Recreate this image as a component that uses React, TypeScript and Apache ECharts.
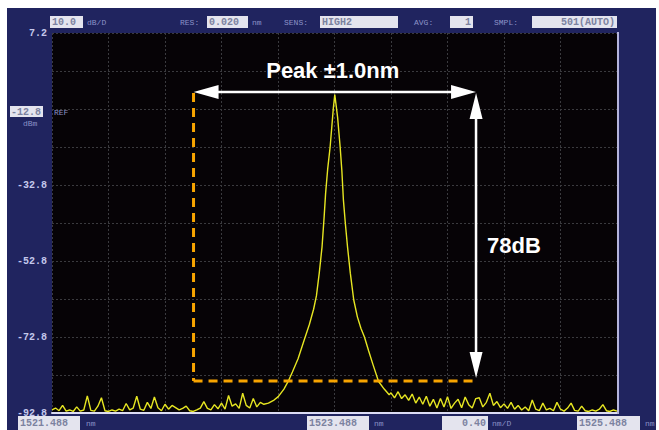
import React, { useEffect, useRef } from "react";
import * as echarts from "echarts";

// ---- axis definitions ----
const START_NM = 1521.488; // left edge of the span
const CENTER_NM = 1523.49; // peak wavelength
const SPAN_NM = 4.0;
const X_DIV_NM = 0.4;
const BOTTOM_DBM = -92.8;
const TOP_DBM = 7.2;
const Y_DIV_DB = 10;
const NOISE_STEP_NM = 0.025;

const xTickLabels = ["1521.488", "1523.488", "1525.488"];
const xDivLabel = "0.40";
const refLevelLabel = "-12.8";

// ---- spectrum trace (dBm) ----
// noise floor left of the peak, from 1521.488 nm in 0.025 nm steps
const noiseLeft = [
  -92.0, -91.5, -92.2, -90.8, -92.3, -92.0, -92.4, -91.2, -92.3, -92.0,
  -88.3, -92.1, -92.3, -91.0, -88.8, -92.2, -92.4, -92.0, -92.3, -91.8,
  -92.2, -90.3, -92.0, -91.5, -88.4, -91.8, -92.1, -90.0, -91.6, -88.6,
  -91.4, -92.2, -90.5, -91.8, -90.8, -91.4, -92.0, -91.6, -91.0, -92.2,
  -92.4, -92.0, -91.5, -89.8, -91.6, -92.0, -90.6, -91.7, -90.2, -91.8,
  -88.2, -91.0, -90.4, -91.6, -87.6, -90.8, -91.5, -89.0, -91.2, -90.0,
  -90.5,
];
// the peak, as offsets (nm) from the peak wavelength
const peakOffsets = [
  -0.47, -0.43, -0.40, -0.36, -0.33, -0.30, -0.26, -0.22, -0.18, -0.15,
  -0.13, -0.11, -0.09, -0.075, -0.065, -0.05, -0.033, -0.02, -0.01, 0,
  0.01, 0.02, 0.038, 0.05, 0.061, 0.075, 0.09, 0.11, 0.134, 0.16,
  0.185, 0.21, 0.24, 0.27, 0.31, 0.35, 0.385,
];
const peakValues = [
  -90.2, -89.4, -88.5, -86.5, -84.5, -82.0, -78.5, -74.0, -69.5, -65.5,
  -62.0, -56.0, -49.0, -41.0, -35.0, -28.5, -22.8, -17.0, -12.5, -9.0,
  -12.0, -15.0, -22.8, -29.0, -36.7, -43.0, -49.0, -56.0, -63.0, -67.5,
  -70.5, -72.8, -76.5, -80.0, -84.5, -86.5, -88.0,
];
// noise right of the peak, from 1523.888 nm in 0.025 nm steps
const noiseRightStartNm = 1523.888;
const noiseRight = [
  -87.5, -88.8, -87.2, -89.0, -88.0, -89.5, -87.8, -90.2, -88.6, -90.5,
  -88.4, -91.0, -89.2, -91.5, -89.0, -91.2, -88.5, -91.6, -90.2, -89.2,
  -91.4, -88.6, -90.6, -91.5, -89.0, -88.8, -91.2, -90.0, -87.6, -90.8,
  -89.8, -91.4, -90.4, -91.6, -90.0, -91.8, -90.8, -92.0, -91.2, -92.2,
  -89.4, -91.8, -92.2, -90.2, -92.0, -91.6, -92.2, -90.0, -91.8, -92.3,
  -91.5, -90.2, -92.1, -92.3, -91.0, -92.2, -92.4, -92.0, -92.3, -91.8,
  -90.6, -92.2, -92.4, -92.0, -92.3,
];

// ---- annotation levels ----
const annotSpanNm = 1.0;
const arrowLevelDbm = -8.3;
const floorLevelDbm = -84.4;
const vArrowTopDbm = -8.6;
const vArrowBottomDbm = -83.6;
const peakLabel = "Peak \u00b11.0nm";
const dbLabel = "78dB";

// header
const header = {
  scale: "10.0",
  res: "0.020",
  sens: "HIGH2",
  avg: "1",
  smpl: "501(AUTO)",
};

const BLUE = "#20245f";
const DIM = "#8c92c8";
const BOX_FILL = "#e4e4ee";
const BOX_TEXT = "#7c82a0";
const MONO = '"Liberation Mono", "DejaVu Sans Mono", monospace';

function box(x: number, y: number, w: number, h: number, text: string, align: "left" | "right" = "left") {
  return [
    { type: "rect", shape: { x, y, width: w, height: h }, style: { fill: BOX_FILL }, z: 10 },
    {
      type: "text",
      x: align === "left" ? x + 2 : x + w - 2,
      y: y + h / 2 + 0.5,
      z: 11,
      style: { text, fill: BOX_TEXT, fontSize: 10, fontWeight: "bold", fontFamily: MONO, align, verticalAlign: "middle" },
    },
  ];
}
function dimText(x: number, y: number, text: string, size = 8) {
  return {
    type: "text",
    x,
    y,
    z: 11,
    style: { text, fill: DIM, fontSize: size, fontFamily: MONO, align: "left", verticalAlign: "middle" },
  };
}

function arrowHead(tx: number, ty: number, dx: number, dy: number, len: number, half: number) {
  const bx = tx - dx * len;
  const by = ty - dy * len;
  const nx = -dy;
  const ny = dx;
  return {
    type: "polygon",
    z: 20,
    shape: { points: [[tx, ty], [bx + nx * half, by + ny * half], [bx - nx * half, by - ny * half]] },
    style: { fill: "#ffffff" },
  };
}

export default function App() {
  const ref = useRef<HTMLDivElement>(null);
  useEffect(() => {
    if (!ref.current) return;
    const chart = echarts.init(ref.current, undefined, { renderer: "svg" });

    const trace = [
      ...noiseLeft.map((v, i) => [START_NM + i * NOISE_STEP_NM, v]),
      ...peakOffsets.map((d, i) => [CENTER_NM + d, peakValues[i]]),
      ...noiseRight.map((v, i) => [noiseRightStartNm + i * NOISE_STEP_NM, v]),
    ].map(([w, v]) => [w - START_NM, v - BOTTOM_DBM]);

    const splitStyle = { show: true, lineStyle: { color: "#3a3a3e", width: 1, type: [2, 2] } };

    chart.setOption({
      animation: false,
      backgroundColor: BLUE,
      grid: {
        left: 52,
        right: 42,
        top: 33,
        bottom: 17,
        show: true,
        backgroundColor: "#060306",
        borderWidth: 0,
      },
      xAxis: {
        type: "value",
        min: 0,
        max: SPAN_NM,
        interval: X_DIV_NM,
        axisLine: { show: true, lineStyle: { color: "#dcdcf5", width: 2 } },
        axisTick: { show: false },
        axisLabel: { show: false },
        splitLine: splitStyle,
      },
      yAxis: {
        type: "value",
        min: 0,
        max: TOP_DBM - BOTTOM_DBM,
        interval: Y_DIV_DB,
        axisLine: { show: false },
        axisTick: { show: false },
        axisLabel: {
          show: true,
          margin: 5,
          color: "#c4c8ec",
          fontSize: 10,
          fontFamily: MONO,
          fontWeight: "bold",
          formatter: (v: number) => {
            const r = Math.round(v);
            if (r % 20 !== 0 || r === 80) return "";
            return (r + BOTTOM_DBM).toFixed(1);
          },
        },
        splitLine: splitStyle,
      },
      series: [
        {
          type: "line",
          data: trace,
          showSymbol: false,
          lineStyle: { color: "#e6e622", width: 1.4 },
          z: 5,
        },
      ],
    });

    const px = (nm: number, dbm: number) =>
      chart.convertToPixel({ gridIndex: 0 }, [nm - START_NM, dbm - BOTTOM_DBM]) as number[];

    const leftNm = CENTER_NM - annotSpanNm;
    const rightNm = CENTER_NM + annotSpanNm;
    const pL = px(leftNm, arrowLevelDbm);
    const pR = px(rightNm, arrowLevelDbm);
    const dTop = px(leftNm, vArrowTopDbm);
    const dCorner = px(leftNm, floorLevelDbm);
    const dEnd = px(rightNm, floorLevelDbm);
    const vTop = px(rightNm, vArrowTopDbm);
    const vBot = px(rightNm, vArrowBottomDbm);

    const orange = { stroke: "#f7a400", lineWidth: 3, lineDash: [9, 6] };
    const white = { stroke: "#ffffff", lineWidth: 2.5 };

    const graphics: any[] = [
      // page margins
      { type: "rect", shape: { x: 0, y: 0, width: 659, height: 8 }, style: { fill: "#ffffff" }, z: 1 },
      { type: "rect", shape: { x: 0, y: 0, width: 7, height: 430 }, style: { fill: "#ffffff" }, z: 1 },
      { type: "rect", shape: { x: 656, y: 0, width: 3, height: 430 }, style: { fill: "#ffffff" }, z: 1 },
      // right border of plot
      { type: "line", shape: { x1: 618, y1: 32, x2: 618, y2: 414 }, style: { stroke: "#b4b4dc", lineWidth: 2 }, z: 6 },
      // header
      ...box(50, 16, 33, 12, header.scale),
      dimText(87, 22, "dB/D"),
      dimText(180, 22, "RES:"),
      ...box(207, 16, 41, 12, header.res),
      dimText(252, 22, "nm"),
      dimText(284, 22, "SENS:"),
      ...box(320, 16, 78, 12, header.sens),
      dimText(414, 22, "AVG:"),
      ...box(450, 16, 23, 12, header.avg, "right"),
      dimText(494, 22, "SMPL:"),
      ...box(532, 16, 85, 12, header.smpl, "right"),
      // REF marker
      ...box(10, 106, 33, 11, refLevelLabel, "right"),
      dimText(54, 112, "REF"),
      dimText(23, 123, "dBm"),
      // bottom labels
      ...box(18, 416, 62, 14, xTickLabels[0]),
      dimText(86, 423, "nm"),
      ...box(307, 416, 62, 14, xTickLabels[1]),
      dimText(374, 423, "nm"),
      ...box(442, 416, 46, 14, xDivLabel, "right"),
      dimText(492, 423, "nm/D"),
      ...box(577, 416, 63, 14, xTickLabels[2]),
      dimText(645, 423, "nm"),
      // dashed orange box
      { type: "line", z: 15, shape: { x1: dTop[0], y1: dTop[1], x2: dCorner[0], y2: dCorner[1] }, style: orange },
      { type: "line", z: 15, shape: { x1: dCorner[0], y1: dCorner[1], x2: dEnd[0], y2: dEnd[1] }, style: orange },
      // horizontal double arrow
      { type: "line", z: 20, shape: { x1: pL[0] + 10, y1: pL[1], x2: pR[0] - 10, y2: pR[1] }, style: white },
      arrowHead(pL[0], pL[1], -1, 0, 25, 7),
      arrowHead(pR[0], pR[1], 1, 0, 25, 7),
      // vertical double arrow
      { type: "line", z: 20, shape: { x1: vTop[0], y1: vTop[1] + 10, x2: vBot[0], y2: vBot[1] - 10 }, style: white },
      arrowHead(vTop[0], vTop[1], 0, -1, 26, 6.5),
      arrowHead(vBot[0], vBot[1], 0, 1, 26, 6.5),
      // texts
      {
        type: "text",
        z: 21,
        x: (pL[0] + pR[0]) / 2 - 2,
        y: 70,
        style: {
          text: peakLabel,
          fill: "#ffffff",
          fontSize: 22,
          fontWeight: "bold",
          fontFamily: '"Liberation Sans", Arial, sans-serif',
          align: "center",
          verticalAlign: "middle",
        },
      },
      {
        type: "text",
        z: 21,
        x: vTop[0] + 11,
        y: 245,
        style: {
          text: dbLabel,
          fill: "#ffffff",
          fontSize: 22,
          fontWeight: "bold",
          fontFamily: '"Liberation Sans", Arial, sans-serif',
          align: "left",
          verticalAlign: "middle",
        },
      },
    ];

    chart.setOption({ graphic: graphics });

    return () => chart.dispose();
  }, []);

  return (
    <div
      ref={ref}
      style={{ position: "fixed", left: 0, top: 0, width: 659, height: 430 }}
    />
  );
}
